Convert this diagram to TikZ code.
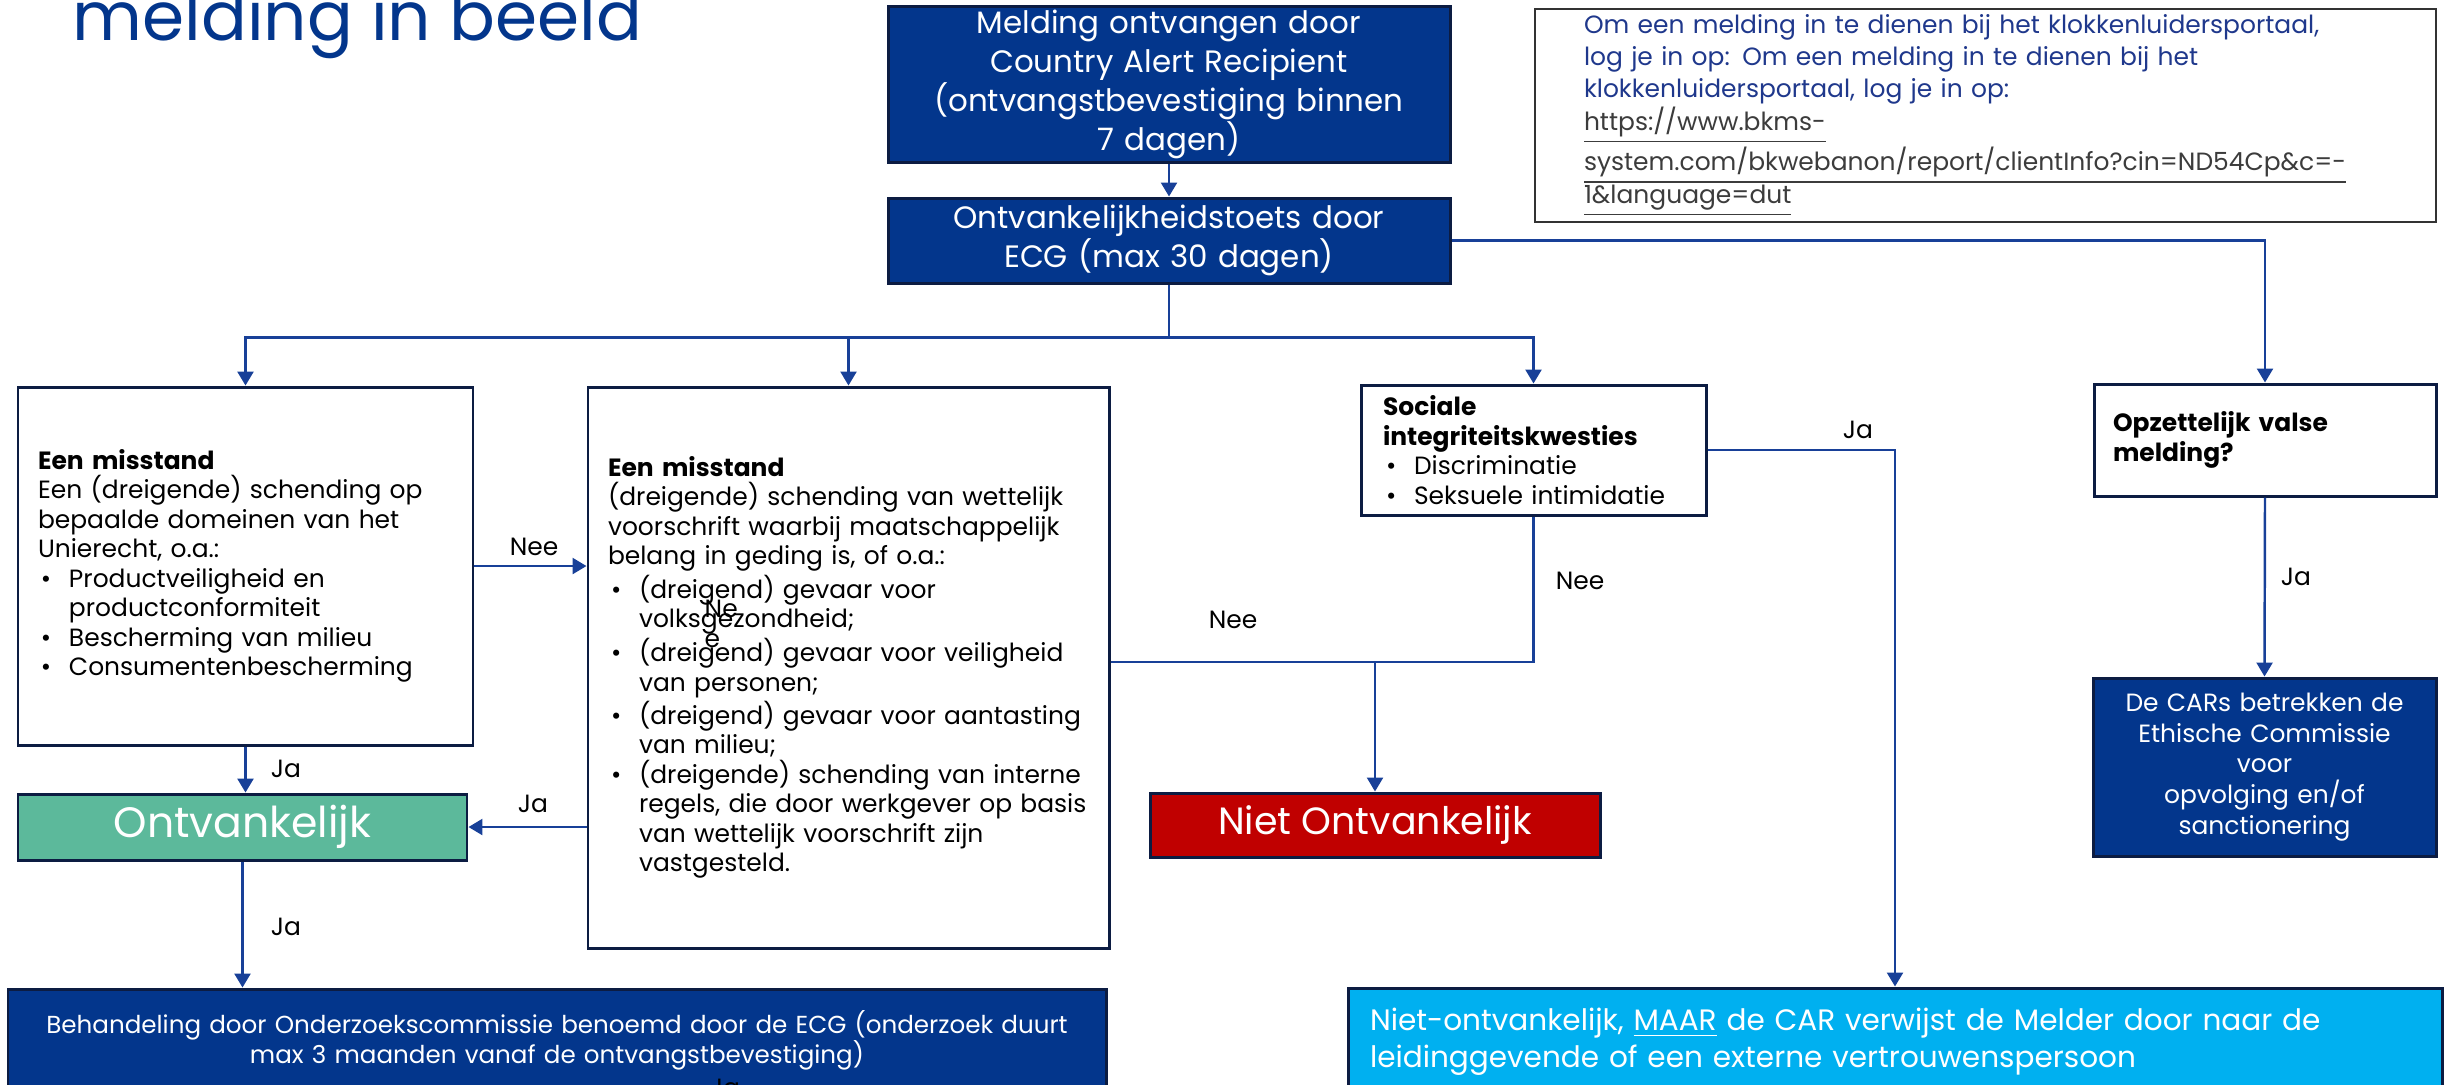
\documentclass[tikz,border=0pt]{standalone}
\usepackage{fontspec}
\setmainfont{Poppins}
\usetikzlibrary{positioning,calc,arrows.meta}

\definecolor{ecgblauw}{RGB}{3,54,140}
\definecolor{rand}{RGB}{12,28,66}
\definecolor{lijn}{RGB}{24,64,152}
\definecolor{groen}{RGB}{92,185,155}
\definecolor{rood}{RGB}{192,0,0}
\definecolor{cyaan}{RGB}{0,176,240}
\definecolor{linktekst}{RGB}{31,56,140}
\definecolor{url}{RGB}{60,60,60}

\newcommand\klein{\fontsize{7.1}{8.4}\selectfont}
\newcommand\punt[1]{\par\noindent\hangindent=0.31cm\hangafter=1\makebox[0.31cm][l]{\hspace{0.03cm}\textbullet}#1\par}

\begin{document}
\begin{tikzpicture}[
  blauwbox/.style={draw=rand, line width=0.85pt, fill=ecgblauw, text=white, align=center, inner xsep=0.1cm, inner ysep=0pt},
  witbox/.style={draw=rand, line width=0.85pt, fill=white, align=left, inner xsep=0.2cm, inner ysep=0pt, font=\klein},
  pijl/.style={draw=lijn, line width=0.7pt, -{Triangle[length=1.4mm,width=1.6mm]}},
  verbind/.style={draw=lijn, line width=0.7pt},
  lbl/.style={font=\klein, inner sep=0pt}
]
\useasboundingbox (0,0) rectangle (24.5,-10.84);

% titel
\node[anchor=base west, inner sep=0pt, text=ecgblauw, font=\fontsize{19.3}{23}\selectfont] (titel) at (0.72,-0.40) {melding in beeld};

% bovenaan
\node[blauwbox, text width=5.42cm, minimum height=1.56cm, font=\fontsize{8.8}{11.1}\selectfont] (melding) at (11.69,-0.84) {Melding ontvangen door\\Country Alert Recipient\\(ontvangstbevestiging binnen\\7 dagen)};
\node[blauwbox, text width=5.42cm, minimum height=0.85cm, font=\fontsize{8.8}{11.1}\selectfont, below=0.33cm of melding] (toets) {Ontvankelijkheidstoets door\\ECG (max 30 dagen)};
\node[draw=black!80, line width=0.7pt, fill=white, text width=8.03cm, inner xsep=0.49cm, inner ysep=0pt, minimum height=2.13cm, align=left, text=linktekst, font=\fontsize{7.1}{9.2}\selectfont] (portaal) at (19.855,-1.155) {Om een melding in te dienen bij het klokkenluidersportaal,\\log je in op: Om een melding in te dienen bij het\\klokkenluidersportaal, log je in op:\\\textcolor{url}{\underline{https://www.bkms-}}\\\textcolor{url}{\underline{system.com/bkwebanon/report/clientInfo?cin=ND54Cp\&c=-}}\\\textcolor{url}{\underline{1\&language=dut}}};

% vragen
\node[witbox, text width=4.15cm, minimum height=3.58cm] (misstandA) at (2.455,-5.66) {\textbf{Een misstand}\\Een (dreigende) schending op\\bepaalde domeinen van het\\Unierecht, o.a.:
\punt{Productveiligheid en\newline productconformiteit}
\punt{Bescherming van milieu}
\punt{Consumentenbescherming}};
\node[witbox, text width=4.81cm, minimum height=5.61cm] (misstandB) at (8.485,-6.675) {\textbf{Een misstand}\\(dreigende) schending van wettelijk\\voorschrift waarbij maatschappelijk\\belang in geding is, of o.a.:
\punt{(dreigend) gevaar voor\newline volksgezondheid;}
\punt{(dreigend) gevaar voor veiligheid\newline van personen;}
\punt{(dreigend) gevaar voor aantasting\newline van milieu;}
\punt{(dreigende) schending van interne\newline regels, die door werkgever op basis\newline van wettelijk voorschrift zijn\newline vastgesteld.}};
\node[witbox, text width=3.01cm, inner xsep=0.22cm, minimum height=1.30cm] (sociaal) at (15.335,-4.50) {\textbf{Sociale}\\\textbf{integriteitskwesties}
\punt{Discriminatie}
\punt{Seksuele intimidatie}};
\node[witbox, text width=3.04cm, inner xsep=0.19cm, minimum height=1.12cm] (opzet) at (22.65,-4.40) {\textbf{Opzettelijk valse}\\\textbf{melding?}};

% uitkomsten
\node[draw=rand, line width=0.85pt, fill=groen, text=white, minimum width=4.49cm, minimum height=0.66cm, inner sep=0pt, font=\fontsize{12.1}{14}\selectfont] (ontv) at (2.425,-8.27) {Ontvankelijk};
\node[draw=rand, line width=0.85pt, fill=rood, text=white, minimum width=4.50cm, minimum height=0.64cm, inner sep=0pt, font=\fontsize{10.8}{13}\selectfont] (niet) at (13.75,-8.25) {Niet Ontvankelijk};
\node[blauwbox, text width=3.23cm, minimum height=1.78cm, font=\fontsize{7.1}{8.7}\selectfont] (cars) at (22.645,-7.67) {De CARs betrekken de\\Ethische Commissie\\voor\\opvolging en/of\\sanctionering};
\node[blauwbox, text width=10.78cm, minimum height=1.02cm, font=\fontsize{7}{8.5}\selectfont] (behandeling) at (5.57,-10.40) {Behandeling door Onderzoekscommissie benoemd door de ECG (onderzoek duurt\\max 3 maanden vanaf de ontvangstbevestiging)};
\node[draw=rand, line width=0.85pt, fill=cyaan, text=white, text width=10.50cm, inner xsep=0.22cm, inner ysep=0pt, minimum height=1.07cm, align=left, font=\fontsize{8.4}{10.5}\selectfont] (maar) at (18.95,-10.415) {Niet-ontvankelijk, \underline{MAAR} de CAR verwijst de Melder door naar de\\leidinggevende of een externe vertrouwenspersoon};

% verbindingen
\coordinate (splits) at ($(toets.south)+(0,-0.53)$);
\coordinate (knik) at (niet.north |- 0,-6.62);
\draw[pijl] (melding) -- (toets);
\draw[pijl] (toets.east) -| (opzet.north);
\draw[verbind] (toets.south) -- (splits);
\draw[pijl] (splits) -| (misstandA.north);
\draw[pijl] (splits) -| (misstandB.north);
\draw[pijl] (splits) -| (sociaal.north);
\draw[pijl] (misstandA.east) -- (misstandB.west |- misstandA.east);
\draw[pijl] (misstandA.south) -- (misstandA.south |- ontv.north);
\draw[pijl] (misstandB.west |- ontv.east) -- (ontv.east);
\draw[pijl] (ontv.south) -- (ontv.south |- behandeling.north);
\draw[pijl] (sociaal.east) -| (maar.north);
\draw[verbind] (sociaal.south) |- (knik);
\draw[verbind, line width=0.4pt] (misstandB.east |- knik) -- (knik);
\draw[pijl] (knik) -- (niet.north);
\draw[pijl] (opzet.south) -- (cars.north);

% labels
\node[lbl] (neeA) at (5.34,-5.47) {Nee};
\node[lbl] (jaA) at (2.86,-7.69) {Ja};
\node[lbl] (jaB) at (5.33,-8.04) {Ja};
\node[lbl] (jaC) at (2.86,-9.27) {Ja};
\node[lbl, align=left, anchor=west] (neeLos) at (7.04,-6.24) {Ne\\e};
\node[lbl] (neeB) at (12.33,-6.20) {Nee};
\node[lbl] (neeC) at (15.80,-5.81) {Nee};
\node[lbl] (jaD) at (18.58,-4.30) {Ja};
\node[lbl] (jaE) at (22.96,-5.77) {Ja};
\node[lbl, anchor=north] (jaLos) at (7.25,-10.78) {Ja};
\end{tikzpicture}
\end{document}
